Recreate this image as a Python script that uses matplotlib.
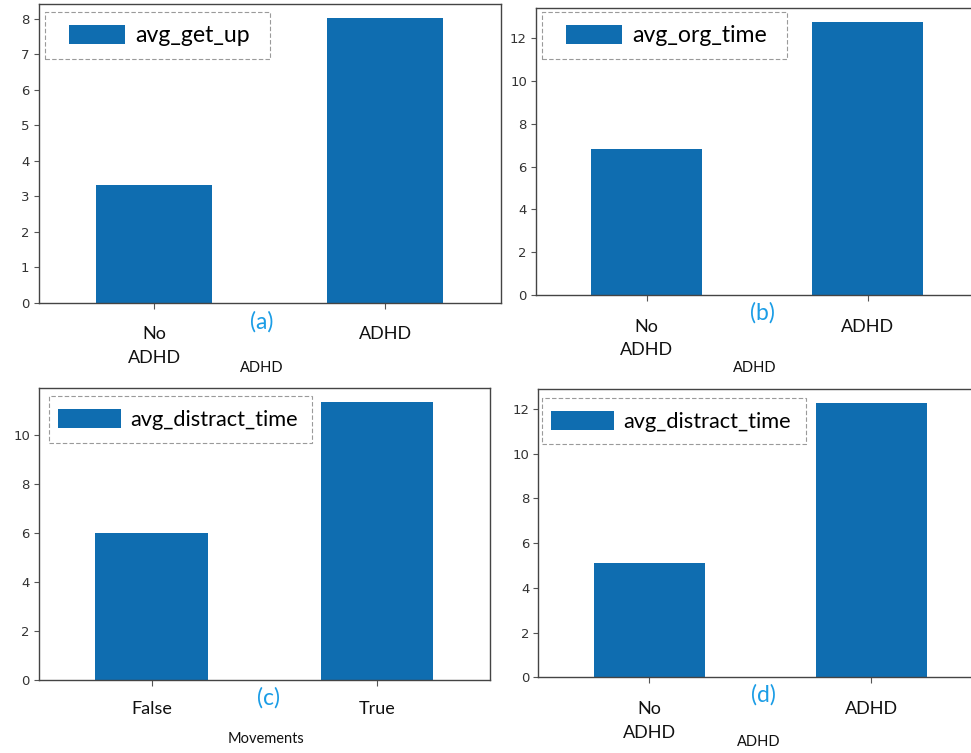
import matplotlib
matplotlib.use('Agg')
import matplotlib.pyplot as plt
from matplotlib.patches import Rectangle
from matplotlib.ticker import MultipleLocator

# values
cats_adhd = ['No\nADHD', 'ADHD']
cats_move = ['False', 'True']
avg_get_up = [3.31, 8.03]
avg_org_time = [6.80, 12.75]
avg_distract_move = [5.99, 11.33]
avg_distract_adhd = [5.13, 12.27]

W, H = 971, 753
BAR = '#0f6db0'
TAG = '#1b9de6'
FONT = 'Lato'

fig = plt.figure(figsize=(W / 100, H / 100), dpi=100)
fig.patch.set_facecolor('white')


def px_box(l, t, r, b):
    # pixel box of the screenshot -> figure fraction
    return [l / W, 1 - b / H, (r - l) / W, (b - t) / H]


def bar_panel(box, cats, vals, name, xlabel, tag, step, frame, handle,
              fs, tag_xy, lab_xy):
    ax = fig.add_axes(px_box(*box))
    x = list(range(len(cats)))
    ax.bar(x, vals, width=0.5, color=BAR, label=name, zorder=2)
    ax.set_xlim(-0.5, len(cats) - 0.5)
    ax.set_ylim(0, max(vals) * 1.05)
    ax.yaxis.set_major_locator(MultipleLocator(step))
    ax.set_xticks(x, cats)
    for t in ax.get_xticklabels():
        t.set_fontfamily(FONT)
        t.set_fontsize(13)
        t.set_linespacing(1.6)
        t.set_verticalalignment('top')
        t.set_color('#111111')
    pad = 13 if any('\n' in c for c in cats) else 11
    ax.tick_params(axis='x', pad=pad, length=4, color='#555555')
    ax.tick_params(axis='y', labelsize=9.5, labelcolor='#333333', length=3.5,
                   color='#555555', pad=3)
    for s in ax.spines.values():
        s.set_color('#444444')
        s.set_linewidth(1.0)

    # legend without frame, anchored at the colour patch; dashed box drawn apart
    fs_px = fs * 100 / 72
    hx, hy, hw = handle
    ax.legend(loc='center left', bbox_to_anchor=(hx / W, 1 - hy / H),
              bbox_transform=fig.transFigure, borderaxespad=0, borderpad=0,
              frameon=False, prop={'family': FONT, 'size': fs},
              handlelength=hw / fs_px, handleheight=21 / fs_px,
              handletextpad=10 / fs_px)
    fl, ft, fr, fb = frame
    fig.patches.append(Rectangle((fl / W, 1 - fb / H), (fr - fl) / W,
                                 (fb - ft) / H, transform=fig.transFigure,
                                 fill=False, edgecolor='#9a9a9a', lw=0.8,
                                 ls=(0, (4, 2)), zorder=5))

    fig.text(tag_xy[0] / W, 1 - tag_xy[1] / H, tag, color=TAG, fontsize=16.5,
             family=FONT, ha='center', va='center')
    fig.text(lab_xy[0] / W, 1 - lab_xy[1] / H, xlabel, color='#111111',
             fontsize=10.5, family=FONT, ha='center', va='center')
    return ax


bar_panel((38.5, 3.5, 500.5, 302.5), cats_adhd, avg_get_up, 'avg_get_up',
          'ADHD', '(a)', 1, (45, 12, 270, 59), (69, 35.5, 56), 16.6,
          (262, 322), (262, 368))
bar_panel((536, 8.3, 978, 295), cats_adhd, avg_org_time, 'avg_org_time',
          'ADHD', '(b)', 2, (541.7, 12.3, 786.7, 59), (566, 35.5, 56), 16.6,
          (762, 313), (755, 368))
bar_panel((39, 388.3, 489.5, 680.3), cats_move, avg_distract_move,
          'avg_distract_time', 'Movements', '(c)', 2, (49, 396, 312, 442.7),
          (57.7, 419.7, 63), 15.7, (268, 698), (266, 739))
bar_panel((538.3, 389.3, 982, 677.3), cats_adhd, avg_distract_adhd,
          'avg_distract_time', 'ADHD', '(d)', 2, (542, 397.7, 805.7, 444),
          (550.7, 421.2, 63), 15.7, (763, 695), (759, 742))

fig.savefig('out.png', dpi=100)
